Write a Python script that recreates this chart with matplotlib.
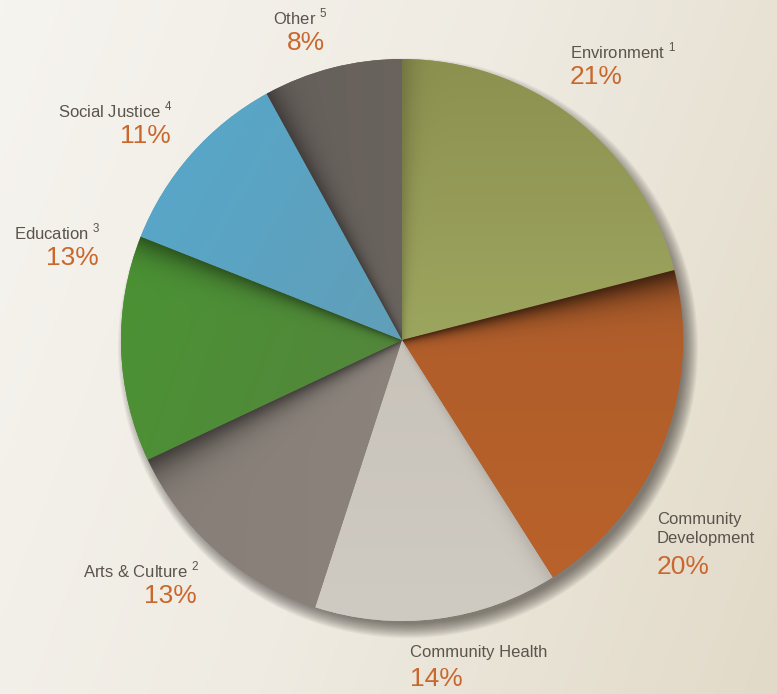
import numpy as np
import matplotlib.pyplot as plt
from matplotlib.colors import LinearSegmentedColormap, to_rgb

plt.rcParams['font.family'] = ['Liberation Sans', 'DejaVu Sans']

categories = ["Environment", "Community Development", "Community Health",
              "Arts & Culture", "Education", "Social Justice", "Other"]
shares = [21, 20, 14, 13, 13, 11, 8]
notes = ["1", "", "", "2", "3", "4", "5"]
colors = ["#a0a862", "#b0602b", "#c9c3b9", "#8b837b", "#53873b", "#5ca3c2", "#6b645f"]
# two tones per slice for the paper shading (from, to)
tones = [("#8d9150", "#acba6d"), ("#a65a2c", "#bb622a"), ("#c3bdb3", "#cfcac2"),
         ("#867e77", "#8f8780"), ("#5a7c42", "#4b9234"), ("#6a97a8", "#58a6c8"),
         ("#625c58", "#716a64")]

W, H = 777, 694
fig = plt.figure(figsize=(W / 100, H / 100), dpi=100)
ax = fig.add_axes([0, 0, 1, 1])

# background: light on the left, warmer beige on the right
xx, yy = np.meshgrid(np.linspace(0, 1, 200), np.linspace(0, 1, 200))
g = np.clip(0.75 * xx + 0.25 * (1 - yy), 0, 1)
bg = LinearSegmentedColormap.from_list("bg", ["#f6f4ef", "#efebe2", "#e2dac8"])
ax.imshow(g, cmap=bg, extent=[0, W, 0, H], origin="lower", aspect="auto", zorder=0)

cx, cy, r = 402, H - 340, 281

# soft drop shadow under the pie
for k in range(14):
    ax.add_patch(plt.Circle((cx + 6, cy - 8), r + 9 - k * 1.1,
                            color="#2a2520", alpha=0.05, lw=0, zorder=1))

wedges, _ = ax.pie(shares, colors=colors, startangle=90, counterclock=False,
                   center=(cx, cy), radius=r, frame=True,
                   wedgeprops=dict(linewidth=0))
ax.set_xlim(0, W)
ax.set_ylim(0, H)
ax.set_aspect("equal")
ax.axis("off")

# gradient direction (deg) and edge shadow (which edge, strength, width px)
grad_dir = [-90, -90, -90, 0, 160, 150, 0]
edge_shadow = [("t2", 0.18, 12), ("t2", 0.6, 16), ("t2", 0.1, 8),
               ("t1", 0.5, 16), ("t1", 0.4, 13), (None, 0, 1), ("t2", 0.35, 12)]

n = 400
ys_, xs_ = np.mgrid[0:n, 0:n]
px = (xs_ / (n - 1) * 2 - 1) * r
py = (ys_ / (n - 1) * 2 - 1) * r
rho = np.hypot(px, py) / r

for w, (ca, cb), gd, (edge, s, width) in zip(wedges, tones, grad_dir, edge_shadow):
    w.set_zorder(2)
    a = np.deg2rad(gd)
    t = (px * np.cos(a) + py * np.sin(a)) / r
    t = np.clip((t + 1) / 2, 0, 1)[..., None]
    rgb = (1 - t) * np.array(to_rgb(ca)) + t * np.array(to_rgb(cb))
    if edge:
        phi = np.deg2rad(w.theta1 if edge == "t1" else w.theta2)
        d = np.abs(px * np.sin(phi) - py * np.cos(phi))
        ww = width * (0.25 + rho)
        rgb = rgb * (1 - s * np.exp(-(d / ww) ** 1.3))[..., None]
    im = ax.imshow(np.clip(rgb, 0, 1), extent=[cx - r, cx + r, cy - r, cy + r],
                   origin="lower", zorder=3, interpolation="bilinear")
    im.set_clip_path(w)

label_color = "#5b544d"
pct_color = "#c9672d"

# (x, y, ha) of each label block, y in pixels from the top
label_pos = {
    "Environment": (570, 51, "left"),
    "Community Development": (657, 529, "left"),
    "Community Health": (410, 653, "left"),
    "Arts & Culture": (199, 570, "right"),
    "Education": (101, 232, "right"),
    "Social Justice": (173, 110, "right"),
    "Other": (327, 17, "right"),
}

for name, val, note in zip(categories, shares, notes):
    x, y, ha = label_pos[name]
    text = name.replace("Community Development", "Community\nDevelopment")
    two = "\n" in text
    lab = text + (r" $^{\mathregular{%s}}$" % note if note else "")
    ax.text(x, H - y, lab, ha=ha, va="center", fontsize=12, color=label_color,
            linespacing=1.3, zorder=6)
    yp = y + 26 + (12 if two else 0)
    ax.text(x - (2 if ha == "right" else 0), H - yp, f"{val}%", ha=ha, va="center",
            fontsize=19, color=pct_color, zorder=6)

fig.savefig("out.png", dpi=100)
